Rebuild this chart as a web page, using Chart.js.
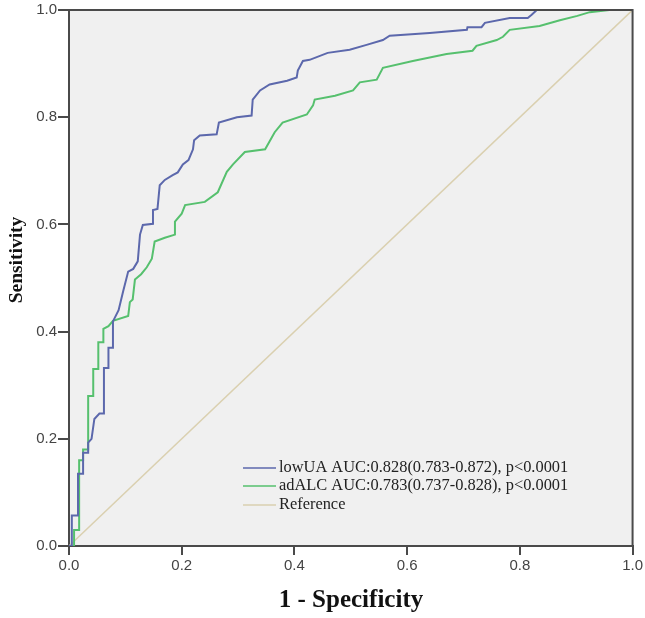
<!DOCTYPE html>
<html>
<head>
<meta charset="utf-8">
<script src="https://cdn.jsdelivr.net/npm/chart.js@4"></script>
<style>
  html, body { margin: 0; padding: 0; background: #fff; }
  canvas { display: block; }
</style>
</head>
<body>
<canvas id="chart" width="645" height="618"></canvas>
<script>
// ROC points (1 - specificity, sensitivity)
const lowUAFpr = [0, 0.005, 0.005, 0.016, 0.016, 0.025, 0.025, 0.034, 0.034, 0.040, 0.045, 0.054, 0.062, 0.062, 0.070, 0.070, 0.078, 0.078, 0.088, 0.096, 0.105, 0.114, 0.122, 0.126, 0.131, 0.149, 0.149, 0.157, 0.161, 0.170, 0.184, 0.193, 0.202, 0.212, 0.220, 0.222, 0.232, 0.262, 0.266, 0.298, 0.324, 0.326, 0.339, 0.356, 0.387, 0.404, 0.406, 0.415, 0.427, 0.459, 0.498, 0.528, 0.557, 0.569, 0.640, 0.706, 0.707, 0.732, 0.738, 0.782, 0.814, 0.821, 0.830, 1.0];
const lowUATpr = [0, 0, 0.057, 0.057, 0.135, 0.135, 0.174, 0.174, 0.193, 0.200, 0.237, 0.247, 0.247, 0.332, 0.332, 0.370, 0.370, 0.419, 0.440, 0.475, 0.512, 0.517, 0.531, 0.581, 0.599, 0.601, 0.627, 0.629, 0.673, 0.683, 0.692, 0.697, 0.712, 0.720, 0.740, 0.757, 0.766, 0.768, 0.790, 0.800, 0.803, 0.833, 0.850, 0.861, 0.868, 0.874, 0.887, 0.905, 0.907, 0.920, 0.926, 0.935, 0.944, 0.952, 0.957, 0.963, 0.968, 0.968, 0.976, 0.985, 0.985, 0.991, 1.0, 1.0];

const adALCFpr = [0, 0.009, 0.009, 0.018, 0.018, 0.025, 0.025, 0.034, 0.034, 0.043, 0.043, 0.052, 0.052, 0.061, 0.061, 0.070, 0.078, 0.105, 0.108, 0.113, 0.117, 0.128, 0.138, 0.147, 0.152, 0.170, 0.188, 0.188, 0.200, 0.206, 0.241, 0.264, 0.280, 0.291, 0.312, 0.348, 0.365, 0.379, 0.422, 0.433, 0.436, 0.472, 0.504, 0.516, 0.546, 0.557, 0.610, 0.670, 0.716, 0.723, 0.759, 0.770, 0.782, 0.835, 0.871, 0.902, 0.924, 0.959, 1.0];
const adALCTpr = [0, 0, 0.030, 0.030, 0.160, 0.160, 0.180, 0.180, 0.280, 0.280, 0.330, 0.330, 0.380, 0.380, 0.405, 0.410, 0.420, 0.429, 0.455, 0.460, 0.497, 0.507, 0.520, 0.536, 0.568, 0.575, 0.581, 0.605, 0.620, 0.636, 0.642, 0.660, 0.698, 0.712, 0.735, 0.740, 0.772, 0.790, 0.805, 0.822, 0.833, 0.840, 0.850, 0.865, 0.870, 0.892, 0.905, 0.918, 0.924, 0.933, 0.944, 0.950, 0.963, 0.970, 0.981, 0.989, 0.996, 1.0, 1.0];

const refFpr = [0, 1];
const refTpr = [0, 1];

const seriesNames = [
    'lowUA AUC:0.828(0.783-0.872), p<0.0001',
    'adALC AUC:0.783(0.737-0.828), p<0.0001',
    'Reference',
];
const seriesColors = ['rgb(92,104,172)', 'rgb(86,192,110)', 'rgb(218,208,176)'];
const tickValues = [0, 0.2, 0.4, 0.6, 0.8, 1.0];

function toPoints(xs, ys) {
    return xs.map((x, i) => ({x: x, y: ys[i]}));
}

const axisColor = '#4a4a4a';
const tickFont = {family: '"Liberation Sans", sans-serif', size: 15};

// background, frame, legend and axis titles
const decorPlugin = {
    id: 'decor',
    beforeDraw(chart) {
        const {ctx, chartArea: a} = chart;
        ctx.save();
        ctx.fillStyle = '#f0f0f0';
        ctx.fillRect(a.left, a.top, a.right - a.left, a.bottom - a.top);
        ctx.restore();
    },
    afterDraw(chart) {
        const {ctx, chartArea: a} = chart;
        ctx.save();
        ctx.strokeStyle = axisColor;
        ctx.lineWidth = 2;
        ctx.beginPath();
        ctx.moveTo(a.left, a.top);
        ctx.lineTo(a.right, a.top);
        ctx.lineTo(a.right, a.bottom);
        ctx.stroke();

        // legend
        ctx.font = '16.4px "Liberation Serif", serif';
        ctx.textBaseline = 'middle';
        const ly = [468, 486, 505];
        seriesNames.forEach((name, i) => {
            ctx.strokeStyle = seriesColors[i];
            ctx.lineWidth = 1.5;
            ctx.beginPath();
            ctx.moveTo(243, ly[i]);
            ctx.lineTo(276, ly[i]);
            ctx.stroke();
            ctx.fillStyle = '#222';
            ctx.textAlign = 'left';
            ctx.fillText(name, 279, ly[i]);
        });

        // axis titles
        ctx.fillStyle = '#111';
        ctx.textAlign = 'center';
        ctx.font = 'bold 25px "Liberation Serif", serif';
        ctx.fillText('1 - Specificity', 351, 601);
        ctx.font = 'bold 19.5px "Liberation Serif", serif';
        ctx.translate(17, 260);
        ctx.rotate(-Math.PI / 2);
        ctx.fillText('Sensitivity', 0, 0);
        ctx.restore();
    }
};

const config = {
    type: 'scatter',
    data: {
        datasets: [
            {label: seriesNames[0], data: toPoints(lowUAFpr, lowUATpr), borderColor: seriesColors[0], borderWidth: 2},
            {label: seriesNames[1], data: toPoints(adALCFpr, adALCTpr), borderColor: seriesColors[1], borderWidth: 2},
            {label: seriesNames[2], data: toPoints(refFpr, refTpr), borderColor: seriesColors[2], borderWidth: 1.5},
        ].map(d => Object.assign(d, {showLine: true, pointRadius: 0, tension: 0, fill: false}))
    },
    options: {
        responsive: false,
        animation: false,
        layout: {padding: {top: 7, right: 12, left: 0, bottom: 0}},
        plugins: {legend: {display: false}, tooltip: {enabled: false}},
        scales: {
            x: {
                type: 'linear', min: 0, max: 1,
                afterBuildTicks: s => { s.ticks = tickValues.map(v => ({value: v})); },
                afterFit: s => { s.height = 72; },
                ticks: {callback: v => v.toFixed(1), font: tickFont, color: '#444', padding: 2, maxRotation: 0},
                grid: {drawOnChartArea: false, tickLength: 9, color: axisColor, lineWidth: 2},
                border: {color: axisColor, width: 2}
            },
            y: {
                type: 'linear', min: 0, max: 1,
                afterBuildTicks: s => { s.ticks = tickValues.map(v => ({value: v})); },
                afterFit: s => { s.width = 69; },
                ticks: {callback: v => v.toFixed(1), font: tickFont, color: '#444', padding: 1},
                grid: {drawOnChartArea: false, tickLength: 11, color: axisColor, lineWidth: 2},
                border: {color: axisColor, width: 2}
            }
        }
    },
    plugins: [decorPlugin]
};

new Chart(document.getElementById('chart'), config);
</script>
</body>
</html>
